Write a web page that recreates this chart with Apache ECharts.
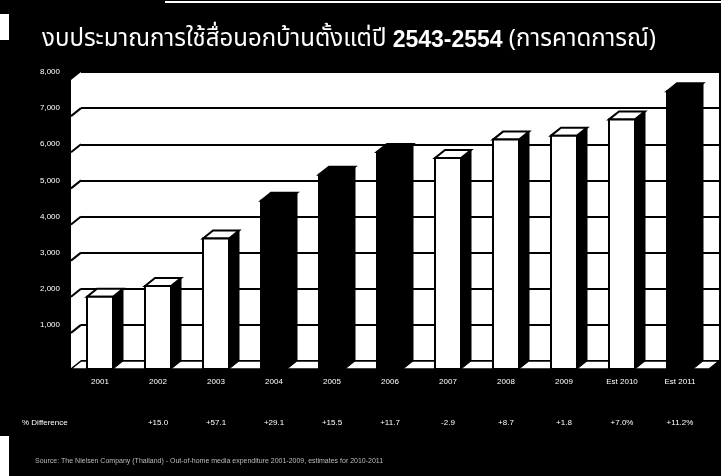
<!DOCTYPE html>
<html><head><meta charset="utf-8">
<script src="https://cdn.jsdelivr.net/npm/echarts@6/dist/echarts.min.js"></script>
<style>html,body{margin:0;padding:0;background:#000}#c{width:721px;height:476px}</style>
</head><body><div id="c"></div>
<script>
// ---- data ----
const titleMain = 'งบประมาณการใช้สื่อนอกบ้านตั้งแต่ปี ';
const titleYears = '2543-2554';
const titleTail = ' (การคาดการณ์)';
const categories = ['2001', '2002', '2003', '2004', '2005', '2006', '2007', '2008', '2009', 'Est 2010', 'Est 2011'];
const spend = [2000, 2300, 3610, 4660, 5380, 6010, 5840, 6350, 6460, 6910, 7690];
const darkBar = [false, false, false, true, true, true, false, false, false, false, true];
const diffRowName = '% Difference';
const diffLabels = ['', '+15.0', '+57.1', '+29.1', '+15.5', '+11.7', '-2.9', '+8.7', '+1.8', '+7.0%', '+11.2%'];
const yMin = 0, yMax = 8000, yStep = 1000;
const sourceNote = 'Source: The Nielsen Company (Thailand) - Out-of-home media expenditure 2001-2009, estimates for 2010-2011';

// ---- 3D geometry (pixels) ----
const DX = -10, DY = 8, BW = 26;
const FONT = '"Liberation Sans", Arial, sans-serif';

function renderWalls(params, api) {
  const cs = params.coordSys;
  const yb = cs.y + cs.height;
  const children = [];
  children.push({type: 'polygon', shape: {points: [[cs.x, cs.y], [cs.x, yb], [cs.x + DX, yb + DY], [cs.x + DX, cs.y + DY]]},
    style: {fill: '#fff', stroke: null}});
  children.push({type: 'polygon', shape: {points: [[cs.x, yb], [cs.x + cs.width, yb], [cs.x + cs.width + DX, yb + DY], [cs.x + DX, yb + DY]]},
    style: {fill: '#fff', stroke: '#000', lineWidth: 1.5}});
  for (let v = yMin + yStep; v <= yMax - yStep; v += yStep) {
    const p = api.coord([0, v]);
    children.push({type: 'line', shape: {x1: cs.x, y1: p[1], x2: cs.x + DX, y2: p[1] + DY},
      style: {stroke: '#000', lineWidth: 2}});
  }
  return {type: 'group', children};
}

function renderBar(params, api) {
  const i = api.value(0), v = api.value(1);
  const top = api.coord([i, v]), base = api.coord([i, 0]);
  const bx0 = top[0] - BW / 2, bx1 = top[0] + BW / 2;
  const fx0 = bx0 + DX, fx1 = bx1 + DX, fyT = top[1] + DY, fyB = base[1] + DY;
  const face = darkBar[i] ? '#000' : '#fff';
  return {type: 'group', children: [
    {type: 'polygon', shape: {points: [[fx1, fyT], [bx1, top[1]], [bx1, base[1]], [fx1, fyB]]},
      style: {fill: '#000', stroke: '#000', lineWidth: 1}},
    {type: 'polygon', shape: {points: [[fx0, fyT], [bx0, top[1]], [bx1, top[1]], [fx1, fyT]]},
      style: {fill: face, stroke: '#000', lineWidth: 2}},
    {type: 'rect', shape: {x: fx0, y: fyT, width: BW, height: fyB - fyT},
      style: {fill: face, stroke: '#000', lineWidth: 2}}
  ]};
}

const chart = echarts.init(document.getElementById('c'));
chart.setOption({
  backgroundColor: '#000',
  animation: false,
  title: {
    text: '{t|' + titleMain + '}{b|' + titleYears + '}{t|' + titleTail + '}',
    left: 37, top: 24,
    textStyle: {rich: {
      t: {color: '#fff', fontSize: 24, fontWeight: 'normal', fontFamily: 'Tahoma, "Noto Sans Thai", "Noto Sans", sans-serif'},
      b: {color: '#fff', fontSize: 23, fontWeight: 'bold', fontFamily: FONT}
    }}
  },
  grid: {left: 81, right: 2, top: 72, bottom: 115, show: true, backgroundColor: '#fff', borderWidth: 0},
  xAxis: [{
    type: 'category', data: categories, position: 'bottom',
    axisLine: {show: false}, axisTick: {show: false}, splitLine: {show: false},
    axisLabel: {color: '#fff', fontSize: 8, fontFamily: FONT, margin: 17, padding: [0, 20, 0, 0], interval: 0}
  }, {
    type: 'category', data: categories, position: 'bottom',
    axisLine: {show: false}, axisTick: {show: false}, splitLine: {show: false},
    axisLabel: {color: '#fff', fontSize: 8, fontFamily: FONT, margin: 58, padding: [0, 20, 0, 0], interval: 0,
      formatter: (val, idx) => diffLabels[idx]}
  }],
  yAxis: {
    type: 'value', min: yMin, max: yMax, interval: yStep,
    axisLine: {show: false}, axisTick: {show: false},
    splitLine: {show: true, lineStyle: {color: '#000', width: 2}},
    axisLabel: {color: '#fff', fontSize: 8, fontFamily: FONT, margin: 21, padding: [16, 0, 0, 0], showMinLabel: false,
      formatter: v => v.toLocaleString('en-US')}
  },
  series: [{
    type: 'custom', name: 'walls', renderItem: renderWalls, data: [[0, 0]], z: 1, silent: true
  }, {
    type: 'custom', name: 'spend', renderItem: renderBar, z: 3,
    data: spend.map((v, i) => [i, v]), encode: {x: 0, y: 1}
  }],
  graphic: [
    {type: 'text', left: 22, top: 419, style: {text: diffRowName, fill: '#fff', fontSize: 8, fontFamily: FONT}},
    {type: 'text', left: 35, top: 458, style: {text: sourceNote, fill: '#bbb', fontSize: 7, fontFamily: FONT}},
    {type: 'rect', left: 165, top: 1, shape: {width: 556, height: 2}, style: {fill: '#fff'}},
    {type: 'rect', left: 0, top: 14, shape: {width: 9, height: 26}, style: {fill: '#fff'}},
    {type: 'rect', left: 0, top: 436, shape: {width: 9, height: 40}, style: {fill: '#fff'}}
  ]
});
</script></body></html>
